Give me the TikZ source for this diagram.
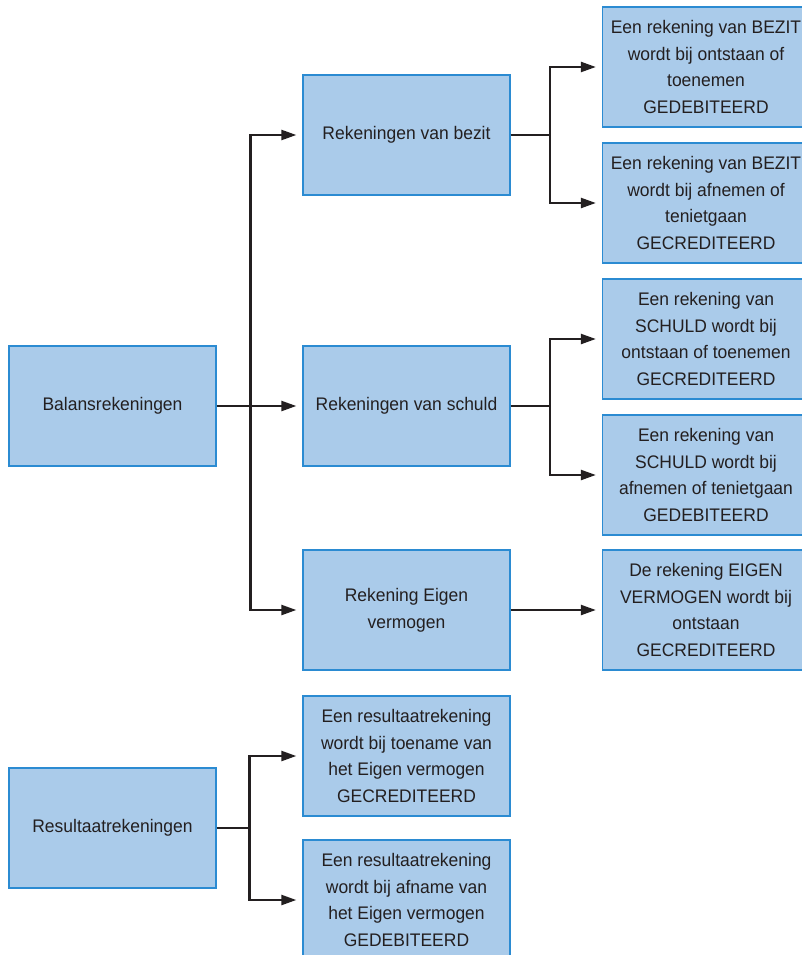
\documentclass[tikz,border=0pt]{standalone}
\usepackage{fontspec}
\setmainfont{Liberation Sans}[FakeStretch=0.96]
\usetikzlibrary{arrows.meta}
\definecolor{boxfill}{HTML}{AACBEA}
\definecolor{boxline}{HTML}{2B8BD2}
\definecolor{ink}{HTML}{231F20}
\tikzset{
  acct/.style={draw=boxline, line width=1.3pt, fill=boxfill, rectangle,
    minimum width=207pt, minimum height=120pt, inner sep=0pt,
    align=center, text=ink, font=\fontsize{18.2pt}{26.7pt}\selectfont},
  conn/.style={draw=ink, line width=2.3pt, line join=miter},
  arr/.style={conn, -{Triangle[length=15pt,width=10pt]}, shorten >=6pt}
}
\begin{document}
\begin{tikzpicture}[x=1pt,y=-1pt]
\useasboundingbox (0,0) rectangle (802,955);
\clip (0,0) rectangle (802,955);
% left column
\node[acct] (bal) at (112.5,406) {Balansrekeningen};
\node[acct] (res) at (112.5,828) {Resultaatrekeningen};
% middle column
\node[acct] (bez) at (406.5,135) {Rekeningen van bezit};
\node[acct] (sch) at (406.5,406) {Rekeningen van schuld};
\node[acct] (eig) at (406.5,610) {Rekening Eigen\\vermogen};
\node[acct] (rt) at (406.5,756) {Een resultaatrekening\\wordt bij toename van\\het Eigen vermogen\\GECREDITEERD};
\node[acct] (ra) at (406.5,900) {Een resultaatrekening\\wordt bij afname van\\het Eigen vermogen\\GEDEBITEERD};
% right column
\node[acct] (b1) at (706,67) {Een rekening van BEZIT\\wordt bij ontstaan of\\toenemen\\GEDEBITEERD};
\node[acct] (b2) at (706,203) {Een rekening van BEZIT\\wordt bij afnemen of\\tenietgaan\\GECREDITEERD};
\node[acct] (s1) at (706,339) {Een rekening van\\SCHULD wordt bij\\ontstaan of toenemen\\GECREDITEERD};
\node[acct] (s2) at (706,475) {Een rekening van\\SCHULD wordt bij\\afnemen of tenietgaan\\GEDEBITEERD};
\node[acct] (e1) at (706,610) {De rekening EIGEN\\VERMOGEN wordt bij\\ontstaan\\GECREDITEERD};
% junctions
\coordinate (jb) at (250.5,406);
\coordinate (jr) at (249.5,828);
\coordinate (jz) at (550,135);
\coordinate (js) at (550,406);
% connectors
\draw[conn] (bal.east) -- (jb);
\draw[arr] (jb) |- (bez.west);
\draw[arr] (jb) -- (sch.west);
\draw[arr] (jb) |- (eig.west);
\draw[conn] (res.east) -- (jr);
\draw[arr] (jr) |- (rt.west);
\draw[arr] (jr) |- (ra.west);
\draw[conn] (bez.east) -- (jz);
\draw[arr] (jz) |- (b1.west);
\draw[arr] (jz) |- (b2.west);
\draw[conn] (sch.east) -- (js);
\draw[arr] (js) |- (s1.west);
\draw[arr] (js) |- (s2.west);
\draw[arr] (eig.east) -- (e1.west);
\end{tikzpicture}
\end{document}
